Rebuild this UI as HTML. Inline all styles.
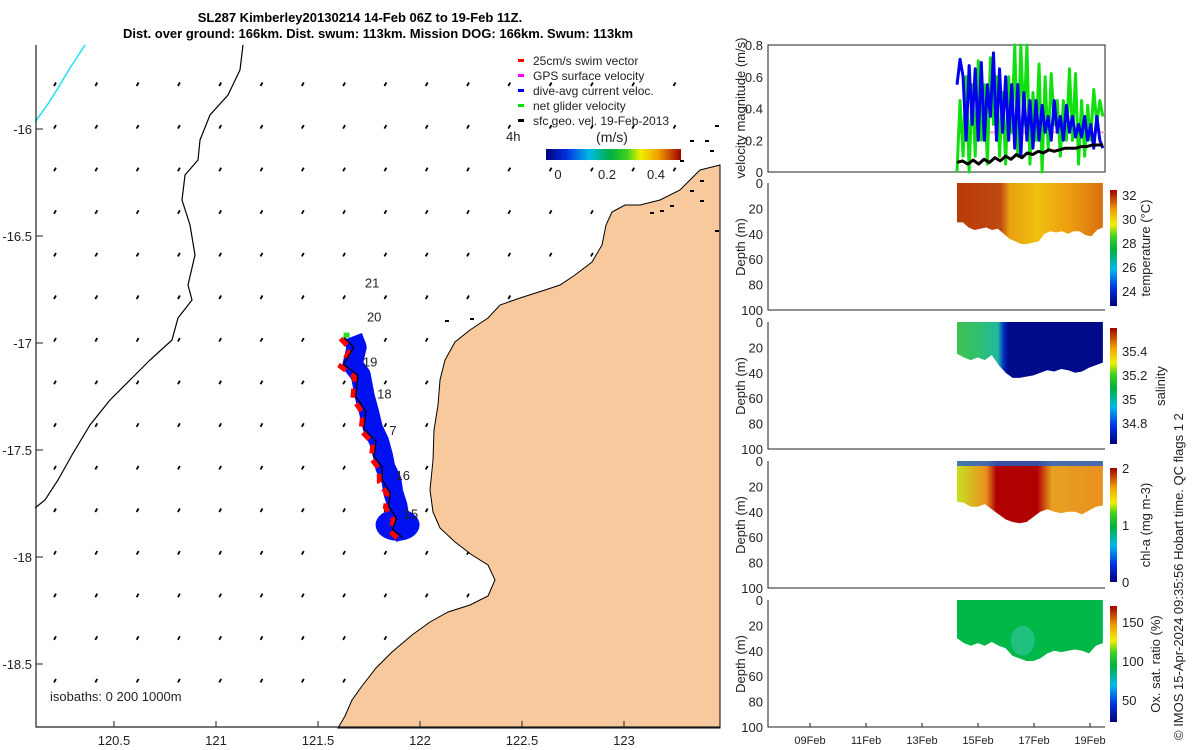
<!DOCTYPE html>
<html><head><meta charset="utf-8">
<style>
html,body{margin:0;padding:0;background:#fff;}
svg{display:block;font-family:"Liberation Sans","DejaVu Sans",sans-serif;}
.t{font-size:13px;fill:#222;}
.b{font-weight:bold;font-size:13px;fill:#000;}
</style></head>
<body>
<svg id="fig" width="1200" height="750" viewBox="0 0 1200 750" xmlns="http://www.w3.org/2000/svg">
<defs>
<linearGradient id="jet" x1="0" y1="1" x2="0" y2="0">
<stop offset="0" stop-color="#00007a"/><stop offset="0.15" stop-color="#0030e0"/><stop offset="0.32" stop-color="#00b8e8"/><stop offset="0.48" stop-color="#00b040"/><stop offset="0.6" stop-color="#40d020"/><stop offset="0.7" stop-color="#f0f000"/><stop offset="0.83" stop-color="#f0a000"/><stop offset="1" stop-color="#a00000"/>
</linearGradient>
<linearGradient id="jeth" x1="0" y1="0" x2="1" y2="0">
<stop offset="0" stop-color="#00007a"/><stop offset="0.15" stop-color="#0030e0"/><stop offset="0.32" stop-color="#00b8e8"/><stop offset="0.48" stop-color="#00b040"/><stop offset="0.6" stop-color="#40d020"/><stop offset="0.7" stop-color="#f0f000"/><stop offset="0.83" stop-color="#f0a000"/><stop offset="1" stop-color="#a00000"/>
</linearGradient>
<linearGradient id="tempG" x1="0" y1="0" x2="1" y2="0">
<stop offset="0" stop-color="#b83a0a"/><stop offset="0.3" stop-color="#c04a10"/><stop offset="0.36" stop-color="#e8a010"/><stop offset="0.55" stop-color="#f0c010"/><stop offset="0.75" stop-color="#eea010"/><stop offset="1" stop-color="#d87010"/>
</linearGradient>
<linearGradient id="salG" x1="0" y1="0" x2="1" y2="0">
<stop offset="0" stop-color="#40c050"/><stop offset="0.15" stop-color="#30c070"/><stop offset="0.28" stop-color="#20b8a0"/><stop offset="0.32" stop-color="#0030c0"/><stop offset="0.35" stop-color="#000a8a"/><stop offset="1" stop-color="#000a8a"/>
</linearGradient>
<linearGradient id="chlG" x1="0" y1="0" x2="1" y2="0">
<stop offset="0" stop-color="#c8e020"/><stop offset="0.2" stop-color="#e89020"/><stop offset="0.27" stop-color="#b00000"/><stop offset="0.55" stop-color="#b00000"/><stop offset="0.65" stop-color="#e8a020"/><stop offset="1" stop-color="#e89020"/>
</linearGradient>
</defs>

<g id="map"></g>
<g id="right"></g>

<text class="b" x="360" y="22" text-anchor="middle">SL287 Kimberley20130214 14-Feb 06Z to 19-Feb 11Z.</text>
<text class="b" x="378" y="38" text-anchor="middle">Dist. over ground: 166km. Dist. swum: 113km. Mission DOG: 166km. Swum: 113km</text>
<text class="t" x="1183" y="740" transform="rotate(-90 1183 740)" style="font-size:13px">© IMOS 15-Apr-2024 09:35:56 Hobart time. QC flags 1  2</text>
</svg>
<script>
// ---------------- data ----------------
const lonTicks=[120.5,121,121.5,122,122.5,123];
const latTicks=[-16,-16.5,-17,-17.5,-18,-18.5];
const trackLabels=["21","20","19","18","7","16","15"];
const trackLabelLon=[121.73,121.74,121.72,121.79,121.85,121.88,121.92];
const trackLabelLat=[-16.74,-16.9,-17.11,-17.26,-17.43,-17.64,-17.82];
const trackLon=[121.64,121.66,121.64,121.68,121.7,121.72,121.74,121.77,121.79,121.8,121.83,121.84,121.86,121.87,121.88,121.9];
const trackLat=[-16.97,-17.02,-17.1,-17.15,-17.25,-17.32,-17.4,-17.46,-17.53,-17.58,-17.64,-17.7,-17.76,-17.82,-17.87,-17.91];
const velTicks=[0,0.2,0.4,0.6,0.8];
const depthTicks=[0,20,40,60,80,100];
const dayTicks=[9,11,13,15,17,19];
const dayLabels=["09Feb","11Feb","13Feb","15Feb","17Feb","19Feb"];
const tStart=14.25, tEnd=19.46;
const blueVel=[0.55,0.71,0.6,0.2,0.67,0.3,0.65,0.2,0.69,0.2,0.55,0.35,0.75,0.2,0.65,0.25,0.6,0.2,0.55,0.15,0.55,0.1,0.5,0.2,0.45,0.15,0.45,0.2,0.42,0.25,0.35,0.2,0.45,0.25,0.35,0.2,0.42,0.25,0.35,0.22,0.3,0.22,0.35,0.2,0.3,0.15,0.35,0.2,0.15];
const greenVel=[0.0,0.45,0.1,0.6,0.0,0.55,0.1,0.7,0.2,0.55,0.05,0.72,0.3,0.6,0.1,0.5,0.05,0.6,0.25,0.8,0.1,0.8,0.3,0.8,0.05,0.5,0.2,0.68,0.0,0.6,0.15,0.62,0.3,0.45,0.1,0.45,0.2,0.65,0.2,0.62,0.05,0.45,0.1,0.42,0.2,0.52,0.3,0.45,0.35];
const blackVel=[0.06,0.07,0.05,0.075,0.05,0.08,0.06,0.09,0.07,0.1,0.08,0.11,0.09,0.12,0.11,0.13,0.12,0.14,0.13,0.14,0.15,0.15,0.15,0.16,0.16,0.17,0.17,0.17];
const tempBottom=[31,31,35,37,36,35,37,36,40,44,46,48,48,47,46,40,38,39,38,40,38,38,41,42,37,35];
const salBottom=[25,28,30,28,30,26,34,40,44,44,43,42,40,38,39,37,38,40,39,36,34,32];
const chlBottom=[32,33,36,36,34,38,42,46,48,49,48,44,40,38,40,41,40,40,42,39,36,35];
const oxBottom=[30,34,36,34,36,33,36,38,44,46,48,48,46,42,40,41,40,39,40,42,36,34];

// ---------------- helpers ----------------
const NS="http://www.w3.org/2000/svg";
function mk(parent,tag,attrs){const e=document.createElementNS(NS,tag);for(const k in attrs)e.setAttribute(k,attrs[k]);parent.appendChild(e);return e;}
const lonX=l=>114+(l-120.5)*204;
const latY=l=>129+(-16-l)*214;
const dayX=d=>810+(d-9)*28;

// ---------------- map ----------------
const map=document.getElementById('map');
for(let j=0;j<15;j++){for(let i=0;i<17;i++){
  const x=55+41.3*i,y=84.5+42.6*j; if(x>715)continue;
  const a=mk(map,'path',{d:`M${x+1},${y-2}L${x-1},${y+1.5}`,stroke:'#000','stroke-width':1.8,fill:'none'});
  
  
}}
const iso0=mk(map,'path',{d:'M35,122 L48,104 L58,88 L70,68 L85,45',stroke:'#20e0f0','stroke-width':1.5,fill:'none'});

const iso200=mk(map,'path',{d:'M243,45 L240,70 L228,95 L210,115 L200,140 L198,160 L185,175 L182,200 L190,225 L195,255 L188,285 L192,300 L178,318 L172,340 L150,360 L130,380 L110,400 L90,425 L72,455 L58,480 L45,500 L35,508',stroke:'#000','stroke-width':1.2,fill:'none'});

const land=mk(map,'path',{d:'M720,165 L700,170 L680,190 L660,200 L640,205 L625,205 L612,212 L606,225 L602,245 L592,262 L575,275 L560,285 L545,290 L520,298 L500,305 L488,318 L470,330 L455,342 L445,360 L440,380 L438,405 L434,430 L433,460 L430,490 L433,512 L440,528 L455,542 L472,555 L488,565 L495,580 L488,596 L470,605 L448,612 L430,622 L412,635 L392,652 L376,668 L362,686 L352,700 L345,716 L338,728 L720,728 Z',fill:'#f7c99c',stroke:'#000','stroke-width':1});

[[650,212],[660,210],[670,205],[690,190],[700,180],[710,150],[705,140],[715,125],[690,140],[680,160],[700,200],[715,230],[470,318],[445,320]].forEach(p=>{
  const s=mk(map,'rect',{x:p[0],y:p[1],width:4,height:2,fill:'#000'});
  
});
const frame=mk(map,'path',{d:'M36,45V727H720',stroke:'#222','stroke-width':1.2,fill:'none'});

const tp=trackLon.map((l,i)=>[lonX(l),latY(trackLat[i])]);
const blueBand=mk(map,'polyline',{points:tp.map(p=>(p[0]+6)+','+p[1]).join(' '),stroke:'#0010f0','stroke-width':20,fill:'none','stroke-linejoin':'round'});

const blob=mk(map,'ellipse',{cx:lonX(121.89),cy:latY(-17.85),rx:22,ry:16,fill:'#0010f0'});

const red=mk(map,'polyline',{points:tp.map((p,i)=>(p[0]-4+(i%2?4:-2))+','+(p[1]+2)).join(' '),stroke:'#ff0000','stroke-width':5,fill:'none','stroke-dasharray':'9 7'});

const path=mk(map,'polyline',{points:tp.map((p,i)=>(p[0]+(i%2?3:-3))+','+p[1]).join(' '),stroke:'#000','stroke-width':1.2,fill:'none'});

const gs=mk(map,'rect',{x:tp[0][0]-3,y:tp[0][1]-4,width:6,height:5,fill:'#20e020'});

trackLabels.forEach((s,i)=>{
  const t=mk(map,'text',{x:lonX(trackLabelLon[i]),y:latY(trackLabelLat[i]),class:'t'});t.textContent=s;
  
});
lonTicks.forEach(l=>{
  const tk=mk(map,'line',{x1:lonX(l),x2:lonX(l),y1:727,y2:721,stroke:'#222'});
  
  const t=mk(map,'text',{x:lonX(l),y:745,class:'t','text-anchor':'middle'});t.textContent=l;
  });
latTicks.forEach(l=>{
  const tk=mk(map,'line',{x1:36,x2:43,y1:latY(l),y2:latY(l),stroke:'#222'});
  
  const t=mk(map,'text',{x:32,y:latY(l)+5,class:'t','text-anchor':'end'});t.textContent=l;
  });
const iso=mk(map,'text',{x:50,y:701,class:'t'});iso.textContent='isobaths: 0   200   1000m';

const legItems=[['#ff0000','25cm/s swim vector'],['#ff00ff','GPS surface velocity'],['#0000ff','dive-avg current veloc.'],['#00e000','net glider velocity'],['#000','sfc geo. vel. 19-Feb-2013']];
legItems.forEach((it,i)=>{const y=61+15*i;
  const m=mk(map,'rect',{x:518,y:y-2,width:6,height:3,fill:it[0]});
  
  const t=mk(map,'text',{x:533,y:y+4,class:'t',style:'font-size:12px'});t.textContent=it[1];
  });
const h4=mk(map,'text',{x:506,y:141,class:'t'});h4.textContent='4h';
const ms=mk(map,'text',{x:612,y:142,class:'t','text-anchor':'middle',style:'font-size:14px'});ms.textContent='(m/s)';
const cb=mk(map,'rect',{x:546,y:149,width:135,height:11,fill:'url(#jeth)'});
[['0',558],['0.2',607],['0.4',656]].forEach(a=>{const t=mk(map,'text',{x:a[1],y:179,class:'t','text-anchor':'middle'});t.textContent=a[0];
  });

// ---------------- right panels ----------------
const R=document.getElementById('right');
const L=768,RR=1105;
function ylab(txt,cx,cy,name){const t=mk(R,'text',{x:cx,y:cy,class:'t','text-anchor':'middle',transform:`rotate(-90 ${cx} ${cy})`});t.textContent=txt;
  }
const vy=v=>172-v*(127/0.8);
const p1=mk(R,'rect',{x:L,y:45,width:RR-L,height:127,fill:'none',stroke:'#222','stroke-width':1});

velTicks.forEach(v=>{const t=mk(R,'text',{x:763,y:vy(v)+5,class:'t','text-anchor':'end'});t.textContent=v;
  });
ylab('velocity magnitude (m/s)',745,108,'velocity-axis-title');
const pink=mk(R,'line',{x1:dayX(tStart),x2:RR,y1:vy(0.25),y2:vy(0.25),stroke:'#ffa0b0','stroke-width':2});

function series(arr,col,w,name){const n=arr.length;const p=arr.map((v,i)=>dayX(tStart+(tEnd-tStart)*i/(n-1))+','+vy(v)).join(' ');
  const e=mk(R,'polyline',{points:p,stroke:col,'stroke-width':w,fill:'none','stroke-linejoin':'round'});
  }
series(greenVel,'#10e010',3,'net-glider-velocity-line');
series(blueVel,'#0000ee',3,'dive-avg-current-line');
series(blackVel,'#000',3,'sfc-geo-velocity-line');

const panels=[
 {top:183,bottom:tempBottom,fill:'url(#tempG)',name:'temperature',cb:[190,306],cbt:[['32',195],['30',219],['28',243],['26',267],['24',291]],lab:'temperature (°C)',lx:1150},
 {top:322,bottom:salBottom,fill:'url(#salG)',name:'salinity',cb:[328,444],cbt:[['35.4',351],['35.2',375],['35',399],['34.8',423]],lab:'salinity',lx:1165},
 {top:461,bottom:chlBottom,fill:'url(#chlG)',name:'chl-a',cb:[468,582],cbt:[['2',468],['1',525],['0',582]],lab:'chl-a (mg m-3)',lx:1150},
 {top:600,bottom:oxBottom,fill:'#00b848',name:'oxygen',cb:[606,722],cbt:[['150',622],['100',661],['50',700]],lab:'Ox. sat. ratio (%)',lx:1160}
];
panels.forEach((P,k)=>{
  const dy=d=>P.top+d*1.27;
  const ax=mk(R,'path',{d:`M${L},${P.top}V${P.top+127}H${RR}`,stroke:'#222',fill:'none'});
  
  depthTicks.forEach(d=>{const t=mk(R,'text',{x:763,y:dy(d)+5,class:'t','text-anchor':'end'});t.textContent=d;
    });
  ylab('Depth (m)',745,P.top+64,'depth-axis-title');
  const n=P.bottom.length;
  let d=`M${dayX(tStart)},${dy(0)} L${dayX(tEnd)},${dy(0)} `;
  for(let i=n-1;i>=0;i--)d+=`L${dayX(tStart+(tEnd-tStart)*i/(n-1))},${dy(P.bottom[i])} `;
  d+='Z';
  const s=mk(R,'path',{d:d,fill:P.fill});
  
  if(P.name==='chl-a'){
    const band=mk(R,'rect',{x:dayX(tStart),y:dy(0),width:dayX(tEnd)-dayX(tStart),height:5,fill:'#2060d0',opacity:0.8});
    
  }
  if(P.name==='oxygen'){
    const lo=mk(R,'ellipse',{cx:dayX(16.6),cy:dy(32),rx:12,ry:15,fill:'#20c080'});
    
  }
  const c=mk(R,'rect',{x:1110,y:P.cb[0],width:7,height:P.cb[1]-P.cb[0],fill:'url(#jet)'});
  
  P.cbt.forEach(a=>{const t=mk(R,'text',{x:1122,y:a[1]+5,class:'t'});t.textContent=a[0];
    });
  ylab(P.lab,P.lx,(P.cb[0]+P.cb[1])/2,P.name+'-colorbar-title');
});
dayTicks.forEach((d,i)=>{
  const tk=mk(R,'line',{x1:dayX(d),x2:dayX(d),y1:727,y2:723,stroke:'#222'});
  
  const t=mk(R,'text',{x:dayX(d),y:744,class:'t','text-anchor':'middle',style:'font-size:11px'});t.textContent=dayLabels[i];
  
});
</script>
</body></html>
